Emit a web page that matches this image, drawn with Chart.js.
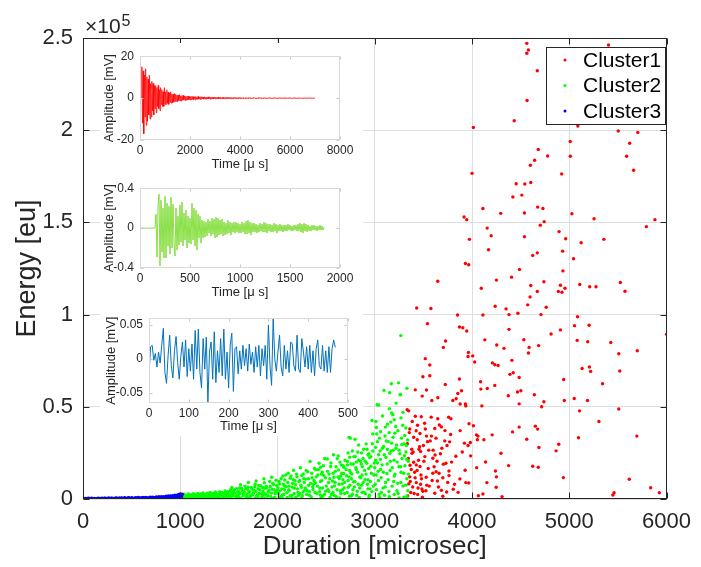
<!DOCTYPE html>
<html>
<head>
<meta charset="utf-8">
<script src="https://cdn.jsdelivr.net/npm/chart.js@4.4.1/dist/chart.umd.min.js"></script>
<style>
  html, body { margin: 0; padding: 0; background: #fff; }
  #wrap { position: relative; width: 701px; height: 567px; overflow: hidden; }
  #wrap canvas { position: absolute; }
</style>
</head>
<body>
<div id="wrap">
  <canvas id="mainChart" width="701" height="567" style="left:0;top:0"></canvas>
  <canvas id="inset1" width="263" height="134" style="left:100px;top:43px"></canvas>
  <canvas id="inset2" width="263" height="130" style="left:100px;top:175px"></canvas>
  <canvas id="inset3" width="263" height="131" style="left:100px;top:305px"></canvas>
</div>
<script>
// Energy vs duration scatter (3 clusters) with one example waveform per cluster

const clusterLabels = ['Cluster1', 'Cluster2', 'Cluster3'];
const clusterColors = ['#ff0000', '#00ff00', '#0000ff'];

const durationTicks = [0, 1000, 2000, 3000, 4000, 5000, 6000];
const energyTicks = [0, 50000, 100000, 150000, 200000, 250000];
const energyTickLabels = ['0', '0.5', '1', '1.5', '2', '2.5'];

// [duration (microsec), energy (eu)]
const cluster1Points = [
  [4563,247100],[4580,243500],[4563,241700],[4671,232200],[5403,246200],[4566,216100],[4434,205100],[5088,202300],[4014,201500],[5504,199600],
  [5705,198800],[5621,192900],[5010,193900],[4681,189500],[4777,186000],[5011,185900],[5590,185900],[4644,183700],[4600,181000],[4922,176300],
  [5661,178300],[4000,176600],[4454,171000],[4543,170800],[4604,171600],[4420,163800],[4512,164800],[4112,157500],[4295,154900],[4539,155100],
  [4675,158300],[4729,157500],[5027,154700],[5255,152000],[3918,152900],[3946,151500],[4742,150400],[4702,148500],[5881,151500],[5793,147700],
  [4156,146900],[4895,145000],[4197,142800],[4539,142200],[4963,141100],[3973,140800],[5122,139000],[5356,140800],[4170,135200],[4932,134400],
  [4671,133500],[4624,132100],[5044,130300],[3932,127700],[3966,127000],[4935,123700],[4488,124500],[3648,118100],[4251,118700],[4407,120300],
  [4739,117800],[4604,115800],[4909,115900],[4956,114300],[5108,116300],[5210,115100],[5275,115100],[5525,117400],[5573,112700],[4095,114300],
  [4671,112500],[4888,112500],[4925,112100],[4597,109600],[4573,105300],[4763,104000],[4238,104500],[4350,103100],[3431,103600],[3577,103300],
  [3851,99800],[4112,99800],[4380,100000],[4472,100700],[4709,100000],[5085,98800],
  [3542,95100],[3871,93300],[3905,92900],[3946,91100],[4380,92000],[4813,89500],[4909,91700],[5054,94000],[5204,94200],[6000,89300],
  [3728,85700],[4132,86300],[4533,86400],[5190,85300],[5081,86000],[5427,84900],[3705,82200],[4254,83500],[4329,81700],[4685,83200],
  [4587,82200],[3963,79500],[4007,77600],[4580,79200],[5509,78800],[5699,80400],[3519,76100],[3959,77300],[4027,74300],[4210,73800],
  [4410,75200],[4234,72800],[4268,72400],[5132,70800],[5207,71600],[5220,69200],[5519,69400],[3566,72700],[3495,66300],[3566,66800],
  [3871,65100],[4088,63600],[4390,67600],[4424,68500],[4485,65900],[4942,64800],[5342,62500],[3725,62100],[3417,59200],[3532,59100],
  [3854,57200],[3892,58700],[4091,59600],[4157,59900],[4234,61600],[4373,56000],[4467,58000],[4502,58700],[4641,56500],[4739,52700],
  [4949,53400],[5051,54500],[5187,53400],[3488,55800],[3587,53400],[3648,54900],[3803,53400],[3837,54400],[3878,51500],[3932,51500],
  [3936,50500],[4101,50500],[4485,51600],[4716,50000],[5509,48800],[5105,47800],[5305,42000],[3333,48400],[3349,47800],[3417,44900],
  [3478,44600],[3580,44400],[3648,43500],[3760,44400],[3783,43500],[3512,41100],[3617,38200],[3685,39100],[3722,37100],[3664,40100],
  [3878,37100],[3969,40800],[4014,39700],[4045,34800],[4061,34100],[4055,32100],[3983,30600],[3922,30300],[3959,29000],[4122,32100],
  [4207,34800],[4485,39000],[4417,36400],[4651,39500],[4675,37900],[4563,32400],[4688,27900],[4892,29700],[4864,26100],[4298,24800],
  [3986,23400],[3400,33500],[3437,32100],[3532,34100],[3583,34100],[3461,28400],[3542,31100],[3770,31000],[3743,29000],[3383,24800],
  [3471,25700],[3515,23000],[3597,22100],[3620,23900],[3400,19900],[3363,18300],[3427,18500],[3465,17600],[3705,18900],[3732,19400],
  [3834,23200],[3929,15600],[4048,17000],[4139,20100],[4241,15200],[4376,18100],[4624,17800],[4681,17200],[4153,8900],[4251,12000],
  [4248,6400],[4939,11600],[3631,14800],[3597,14000],[3661,14000],[3763,15200],[3644,9800],[3763,12700],[3875,10900],[3936,8900],
  [3529,11800],[3427,8900],[3471,8000],[3349,8200],[3485,5400],[3526,4500],[3617,3100],[3685,4700],[3739,3800],[3807,5300],
  [3857,3600],[3966,8700],[4065,1800],[4112,2700],[4309,1300],[3339,1600],[3441,2500],[3495,4200],[5461,3400],[5448,2200],
  [5617,10700],[5837,6100],[5926,3400],[5695,34100],[5095,33200],
  [3360,12000],[3380,27000],[3390,6500],[3410,14500],[3450,21000],[3480,11000],[3500,29000],[3550,16500],[3560,7000],[3600,26500],
  [3640,20500],[3700,11500],[3690,27500],[3790,20000],[3820,8000],[3900,25500],[3360,38000],[3440,40000],[3370,3500],
  [3335,30000],[3345,22000],[3355,36000],[3365,9500],[3375,16000],[3385,42000],[3395,25500],[3405,3000],[3415,11500],[3425,37000],
  [3435,15500],[3445,6000],[3455,27000],[3465,35500],[3475,13000],[3490,1000],[3505,20500],[3520,38000],[3535,7500],[3555,26500],
  [3570,31500],[3590,10000],[3610,17500],[3630,33000],[3655,6500],[3675,24500],[3700,1500],[3720,31500],[3750,9000],[3780,35000]
];

const cluster2Points = [
  [1010,300],[1020,900],[1035,500],[1050,1500],[1060,200],[1075,700],[1090,1200],[1100,400],[1115,1800],[1130,600],
  [1140,1000],[1155,300],[1170,2100],[1185,800],[1200,1400],[1210,500],[1225,2500],[1240,900],[1255,1700],[1270,300],
  [1285,1200],[1300,2200],[1310,700],[1325,1500],[1340,2800],[1355,400],[1370,1900],[1385,1000],[1400,2600],[1410,600],
  [1425,3200],[1440,1400],[1455,2000],[1470,800],[1485,3500],[1495,1700],[1060,1100],[1150,1600],[1250,2000],[1350,2400],
  [1450,3000],[1230,200],[1330,600],[1430,400],
  [1005,1200],[1012,2000],[1028,1500],[1040,2600],[1048,800],[1066,1900],[1082,2700],[1095,1600],[1108,2300],[1122,1100],
  [1135,2900],[1148,2200],[1162,1300],[1178,3000],[1192,1900],[1206,2800],[1218,1000],[1232,3300],[1246,2500],[1262,1200],
  [1276,3100],[1292,2000],[1305,3600],[1318,1400],[1332,3000],[1346,1800],[1362,3800],[1376,2600],[1392,1500],[1405,4000],
  [1418,2300],[1433,3500],[1448,1200],[1462,4300],[1478,2600],[1490,3900],
  [1505,2500],[1515,4200],[1525,800],[1540,3300],[1550,1800],[1560,5000],[1575,1200],[1590,3800],[1600,2200],[1610,6000],
  [1625,500],[1640,4500],[1650,2900],[1665,7000],[1680,1500],[1690,5200],[1705,3500],[1720,800],[1730,6300],[1745,2400],
  [1760,4800],[1770,8000],[1785,1700],[1800,5600],[1810,3000],[1825,7200],[1840,1000],[1850,4400],[1865,8800],[1880,2600],
  [1890,6100],[1905,3800],[1920,9500],[1930,1400],[1945,5300],[1960,7800],[1975,2900],[1985,10200],[1995,4600],[1530,6200],
  [1620,7800],[1700,9000],[1780,9800],[1860,11000],[1940,11800],[1570,300],[1670,200],[1770,600],[1870,400],[1970,900],
  [1508,1500],[1520,5200],[1535,2700],[1548,4300],[1562,3200],[1578,5600],[1588,2000],[1602,4000],[1615,3000],[1630,5800],
  [1645,1800],[1658,3900],[1672,5500],[1686,2700],[1698,6400],[1712,4100],[1725,2000],[1738,5500],[1752,3300],[1766,6700],
  [1778,4000],[1792,2300],[1806,7400],[1818,4900],[1832,2800],[1846,6200],[1858,3400],[1872,5800],[1885,7000],[1898,1900],
  [1912,4800],[1925,6800],[1938,3200],[1952,8500],[1966,5000],[1980,3600],[1992,7300],[1500,600],[1600,900],[1700,1200],
  [1800,800],[1900,1500],[1950,300],[1850,2000],
  [2010,3000],[2020,8200],[2030,1200],[2045,5500],[2055,12500],[2065,2400],[2075,10300],[2090,6700],[2100,800],[2110,14000],
  [2120,4300],[2130,11200],[2145,2000],[2155,8500],[2165,15500],[2175,5800],[2190,1000],[2200,12100],[2210,3600],[2220,9400],
  [2235,17000],[2245,6300],[2255,1800],[2265,13600],[2280,4800],[2290,10800],[2300,2500],[2310,14800],[2320,7400],[2335,20300],
  [2345,1200],[2355,11500],[2365,5200],[2380,16500],[2390,8800],[2393,15800],[2405,3000],[2415,13000],[2427,19400],[2435,6000],
  [2444,17200],[2455,10000],[2465,1500],[2475,12800],[2485,22000],[2495,4200],[2050,600],[2150,400],[2250,700],[2350,300],
  [2450,900],[2070,7000],[2180,9900],[2270,11000],[2370,8000],[2460,14500],[2115,5000],[2230,3000],[2330,4000],[2440,2200],
  [2005,6000],[2015,9500],[2025,4500],[2038,11000],[2048,2200],[2060,8000],[2072,5000],[2085,13000],[2095,3400],[2105,9000],
  [2118,7000],[2128,1600],[2138,12500],[2150,6500],[2160,10500],[2172,3000],[2185,7800],[2195,13500],[2205,5500],[2215,2000],
  [2228,10000],[2240,7500],[2250,12800],[2262,3800],[2275,9000],[2285,6000],[2295,15500],[2305,4500],[2318,11000],[2328,2000],
  [2340,8500],[2352,14000],[2362,6500],[2375,10000],[2385,3500],[2398,12000],[2410,7000],[2420,16000],[2432,4000],[2442,9500],
  [2452,13500],[2462,6000],[2472,18000],[2482,2500],[2492,11500],[2502,7000],[2515,15000],[2528,4000],[2538,11000],[2550,19500],
  [2560,6500],[2572,14000],[2582,2000],[2592,9000],[2602,17500],[2612,5000],[2622,12000],[2632,8000],[2642,20000],[2652,3000],
  [2512,21700],[2520,5000],[2530,13500],[2546,17600],[2555,2500],[2565,9800],[2575,24000],[2585,7000],[2595,15000],[2605,1200],
  [2614,21900],[2624,23400],[2635,11000],[2645,4500],[2655,18500],[2665,8200],[2681,17200],[2690,3000],[2702,35300],[2710,12600],
  [2719,20300],[2728,6400],[2736,33500],[2743,22700],[2752,14200],[2760,1800],[2770,26000],[2780,9300],[2797,32400],[2800,23000],
  [2810,16000],[2820,4200],[2834,29300],[2845,12000],[2855,20500],[2865,7500],[2885,27000],[2895,15500],[2905,2800],[2912,29900],
  [2918,19400],[2930,10500],[2940,24500],[2950,5500],[2960,17800],[2972,42600],[2980,35300],[2990,13000],[2540,800],[2640,600],
  [2740,1500],[2840,900],[2940,1100],[2580,11800],[2680,13800],[2780,19000],[2880,22000],[2980,26000],[2525,9000],[2625,15800],
  [2725,10000],[2825,25500],[2925,8000],[2570,3500],[2670,5000],[2770,2600],[2870,3600],[2970,4000],
  [2660,14000],[2672,10500],[2685,6000],[2695,21000],[2705,16000],[2715,3500],[2725,25000],[2735,12000],[2745,7500],[2755,19000],
  [2765,13500],[2775,5000],[2785,23000],[2795,9500],[2805,17000],[2815,2000],[2825,14500],[2835,21000],[2845,6000],[2855,11500],
  [2862,25000],[2872,17500],[2882,9000],[2892,3500],[2902,20500],[2910,13500],[2920,27000],[2930,5500],[2938,16500],[2948,22500],
  [2955,9500],[2965,14000],[2975,30000],[2985,7000],[2995,19500],[2690,9000],[2760,11000],[2830,8000],[2900,10500],[2960,23000],
  [2675,18000],[2740,15500],[2810,20000],[2870,13000],[2945,2000],[2650,12500],[2720,18500],[2790,6500],[2860,19000],[2930,24000],
  [3005,8000],[3010,21000],[3017,38800],[3020,35300],[3024,51100],[3027,31100],[3035,15000],[3045,2500],[3055,26000],[3065,11500],
  [3075,18500],[3085,6000],[3095,58900],[3105,34200],[3109,39000],[3115,22500],[3125,13800],[3139,31100],[3145,4000],[3155,24800],
  [3166,41700],[3170,62500],[3173,30300],[3180,17000],[3186,45700],[3195,9500],[3207,35700],[3214,39300],[3224,29300],[3230,20000],
  [3240,3000],[3250,26500],[3261,56500],[3270,14500],[3280,22000],[3290,7000],[3300,30000],[3310,18000],[3320,25500],[3330,11000],
  [3340,4500],[3345,20500],[3050,900],[3150,1200],[3250,600],[3330,1500],[3060,16000],[3130,27000],[3200,12500],[3275,33000],
  [3015,13000],[3090,28500],[3160,20500],[3235,8500],[3305,23500],[3040,24000],[3110,9000],[3190,26500],[3265,17500],[3325,29000],
  [3244,63000],[3153,57600],[3040,51000],[3173,46700],[2695,35800],[2748,33000],[3268,88600],[3265,56700],
  [3000,17000],[3008,28000],[3018,5000],[3028,19500],[3038,10000],[3048,33000],[3058,21500],[3068,3500],[3078,27500],[3088,14500],
  [3098,24000],[3108,6500],[3118,31500],[3128,19000],[3138,10500],[3148,36000],[3158,15500],[3168,26000],[3178,7000],[3188,33500],
  [3198,21000],[3208,13500],[3218,27500],[3228,4500],[3238,37000],[3248,17500],[3258,24500],[3268,9000],[3278,29500],[3288,40000],
  [3298,14000],[3308,34500],[3318,7500],[3328,21500],[3338,32000],[3345,13500],[3012,42000],[3080,45000],[3150,49000],[3220,52000],
  [3290,47000],[3330,60000],[3060,36500],[3130,40500],[3200,43000],[3270,44000],[3320,38500],[3100,2000],[3200,2500],[3300,1000]
];

const cluster3Points = [
  [0,100],[15,200],[30,50],[45,150],[60,300],[80,100],[95,250],[110,50],[130,200],[150,350],
  [165,100],[185,250],[200,150],[220,400],[240,100],[255,300],[275,200],[290,450],[310,150],[330,300],
  [345,500],[365,200],[380,350],[400,600],[420,250],[435,450],[455,300],[470,650],[490,200],[510,500],
  [525,350],[545,750],[560,300],[580,600],[600,450],[615,850],[635,350],[650,700],[670,500],[690,950],
  [705,400],[720,800],[740,600],[755,1100],[770,500],[790,900],[805,1300],[820,700],[840,1000],[855,1500],
  [870,800],[885,1200],[900,1700],[915,900],[930,1400],[945,2000],[960,1100],[975,1700],[985,2400],[995,1300],
  [1005,2200],[1015,1800],[1020,2600],[1010,1000],[500,100],[700,200],[900,300],[300,50],
  [5,400],[22,300],[38,200],[52,450],[70,250],[88,400],[102,200],[120,350],[140,150],[158,450],
  [175,300],[195,500],[210,250],[230,450],[248,300],[265,550],[282,250],[300,500],[320,350],[338,600],
  [355,300],[372,550],[390,400],[410,350],[428,650],[445,250],[462,550],[480,400],[500,700],[518,300],
  [535,600],[552,450],[570,800],[590,400],[608,700],[625,550],[642,900],[660,400],[680,750],[698,600],
  [712,1000],[730,500],[748,850],[762,700],[780,1200],[798,650],[812,1000],[830,1300],[848,800],[862,1200],
  [878,1600],[892,1000],[908,1400],[922,1800],[938,1100],[952,1600],[968,2100],[980,1500],[992,2000],[1000,2800]
];

// example waveforms (amplitude in mV), one sample every *Step microseconds
const wave1Step = 25;
const wave1Amp = [
  0,0,0,15,-12,13,-17,11,-9,14,-13,10,-11,
  9,-8,11,-10,7,-9,8,-6,7,-8,6,-5,
  6,-7,5,-4,6,-5,4,-6,5,-3,4,-4,3,-4,5,-3,
  3,-3,4,-2.5,2.8,-3,2.5,-2,3,-2.4,2,-2.2,1.8,-2,2.2,-1.6,1.8,-1.5,1.4,-1.7,
  1.5,-1.2,1.6,-1.3,1.1,-1.4,1.2,-1,1.3,-0.9,1,-1.1,0.8,-1,0.9,-0.8,1,-0.7,0.8,-0.9,
  0.7,-0.8,0.9,-0.6,0.7,-0.7,0.6,-0.8,0.7,-0.5,0.6,-0.6,0.8,-0.5,0.5,-0.6,0.6,-0.5,0.7,-0.4,
  0.5,-0.5,0.6,-0.4,0.4,-0.5,0.5,-0.4,0.6,-0.3,0.4,-0.5,0.4,-0.3,0.5,-0.4,0.3,-0.4,0.4,-0.3,
  0.4,-0.3,0.3,-0.4,0.5,-0.3,0.3,-0.3,0.4,-0.2,0.3,-0.3,0.4,-0.3,0.2,-0.3,0.3,-0.2,0.4,-0.3,
  0.3,-0.2,0.2,-0.3,0.3,-0.2,0.3,-0.2,0.2,-0.3,0.3,-0.2,0.2,-0.2,0.3,-0.2,0.2,-0.2,0.3,-0.2,
  0.2,-0.2,0.2,-0.1,0.2,-0.2,0.1,-0.2,0.2,-0.1,0.2,-0.15,0.15,-0.2,0.2,-0.1,0.15,-0.2,0.1,-0.15,
  0.2,-0.1,0.15,-0.15,0.1,-0.2,0.15,-0.1,0.2,-0.15,0.15,-0.1,0.1,-0.15,0.2,-0.1,0.1,-0.15,0.15,-0.1,
  0.15,-0.1,0.1,-0.15,0.1,-0.1,0.15,-0.1,0.1,-0.15,0.1,-0.1,0.15,-0.1,0.1,-0.1,0.12,-0.1,0.1,-0.12,
  0.1,-0.12,0.12,-0.1,0.1,-0.1,0.12,-0.08,0.1,-0.1,0.08,-0.1,0.1,-0.08,0.1,-0.1,0.08,-0.1,0.1,-0.08,
  0.1,-0.08,0.08,-0.1,0.1,-0.08,0.08,-0.08,0.1,-0.08,0.08,-0.1,0.08,-0.08,0.1,-0.08,0.08,-0.08,0.08,-0.08,
  0.08,-0.08,0.06,-0.08,0.08,-0.06,0.08,-0.06,0.06,-0.08,0.08,-0.06,0.06,-0.06,0.08,-0.06,0.06,-0.06,0.06,0
];
const wave2Step = 10;
const wave2Amp = [
  0,0.003,-0.002,0.002,-0.003,0.002,0,-0.002,0.003,-0.002,0.002,-0.003,0.002,0,-0.002,0.003,
  0.14,-0.29,0.22,0.34,-0.38,0.28,-0.24,0.2,-0.3,0.32,
  -0.3,0.25,-0.18,0.22,-0.26,0.31,-0.2,0.24,-0.15,-0.28,
  0.2,-0.22,0.12,-0.17,0.23,-0.14,0.26,-0.18,0.15,-0.12,
  0.18,-0.2,0.12,-0.15,0.1,-0.16,0.25,-0.12,0.2,-0.18,
  0.18,-0.22,0.14,-0.1,0.12,-0.15,0.08,-0.1,0.07,-0.09,
  0.06,-0.08,0.09,-0.05,0.07,-0.08,0.1,-0.06,0.09,-0.1,
  0.11,-0.09,0.1,-0.07,0.08,-0.06,0.09,-0.08,0.06,-0.07,
  0.05,-0.06,0.08,-0.05,0.06,-0.07,0.05,-0.04,0.06,-0.05,
  0.06,-0.04,0.05,-0.05,0.04,-0.05,0.06,-0.04,0.05,-0.06,
  0.07,-0.06,0.08,-0.05,0.06,-0.07,0.05,-0.04,0.05,-0.04,
  0.04,-0.05,0.03,-0.04,0.05,-0.03,0.04,-0.04,0.06,-0.04,
  0.05,-0.05,0.04,-0.03,0.04,-0.04,0.03,-0.04,0.05,-0.03,
  0.04,-0.05,0.03,-0.03,0.04,-0.03,0.03,-0.04,0.03,-0.03,
  0.03,-0.03,0.04,-0.02,0.03,-0.03,0.02,-0.03,0.03,-0.02,
  0.03,-0.03,0.04,-0.03,0.05,-0.04,0.04,-0.05,0.05,-0.03,
  0.04,-0.04,0.03,-0.03,0.02,-0.03,0.03,-0.02,0.03,-0.02,
  0.02,-0.03,0.02,-0.02,0.03,-0.02,0.02,-0.02,0.01
];
const wave3Step = 4;
const wave3Amp = [
  -0.023,0.018,0.02,-0.002,0.008,-0.012,0.01,-0.006,0.02,0.045,
  -0.02,-0.036,0.005,0.035,-0.01,-0.028,0.012,0.033,-0.005,-0.03,
  0.004,0.025,-0.012,0.028,-0.026,0.015,-0.018,0.022,-0.03,0.042,
  -0.015,0.044,-0.02,-0.043,0.03,-0.015,0.032,-0.064,0.01,0.025,
  -0.03,0.04,-0.035,0.012,-0.02,0.03,-0.025,0.044,-0.03,0.01,
  -0.043,0.02,0.038,-0.048,0.015,0.018,-0.022,0.012,-0.015,0.02,
  -0.01,0.015,-0.018,0.022,-0.008,0.01,-0.02,0.018,-0.012,0.02,
  -0.025,0.015,-0.01,0.02,-0.03,0.05,-0.01,-0.039,0.06,0,
  -0.018,0.01,0.035,-0.012,-0.025,0.02,-0.015,0.012,-0.02,0.025,
  0.022,-0.01,-0.018,0.035,-0.015,-0.02,0.03,0.01,-0.012,0.018,
  -0.015,0.02,-0.02,0.012,-0.025,0.015,0.028,-0.01,-0.015,0.02,
  -0.018,0.012,-0.02,0.018,-0.02,0.015,0.028,0.017
];

const fontFamily = "'Liberation Sans', Arial, Helvetica, sans-serif";
const axisColor = '#262626';

// box round the axes plus MATLAB-style inward tick marks
const boxTicksPlugin = {
  id: 'boxTicks',
  beforeDraw(chart) {
    const ctx = chart.ctx;
    ctx.save();
    ctx.fillStyle = '#ffffff';
    ctx.fillRect(0, 0, chart.width, chart.height);
    ctx.restore();
  },
  afterDatasetsDraw(chart, args, opts) {
    const { ctx, chartArea: a, scales } = chart;
    const L = Math.round(a.left) + 0.5, R = Math.round(a.right) - 0.5;
    const T = Math.round(a.top) + 0.5, B = Math.round(a.bottom) - 0.5;
    ctx.save();
    ctx.lineWidth = 1;
    ctx.strokeStyle = opts.tickColor;
    ctx.beginPath();
    scales.x.ticks.forEach(t => {
      const p = Math.round(scales.x.getPixelForValue(t.value)) + 0.5;
      ctx.moveTo(p, B); ctx.lineTo(p, B - opts.len);
      ctx.moveTo(p, T); ctx.lineTo(p, T + opts.len);
    });
    scales.y.ticks.forEach(t => {
      const p = Math.round(scales.y.getPixelForValue(t.value)) + 0.5;
      ctx.moveTo(L, p); ctx.lineTo(L + opts.len, p);
      ctx.moveTo(R, p); ctx.lineTo(R - opts.len, p);
    });
    ctx.stroke();
    ctx.strokeStyle = opts.color;
    ctx.strokeRect(L, T, R - L, B - T);
    ctx.restore();
  }
};

// legend box and the x10^5 exponent label
const mainExtrasPlugin = {
  id: 'mainExtras',
  afterDraw(chart) {
    const ctx = chart.ctx;
    ctx.save();
    ctx.fillStyle = axisColor;
    ctx.textBaseline = 'alphabetic';
    ctx.font = '21px ' + fontFamily;
    ctx.fillText('\u00d710', 85, 33);
    const w = ctx.measureText('\u00d710').width;
    ctx.font = '16px ' + fontFamily;
    ctx.fillText('5', 85 + w + 1, 26);

    const box = { x: 546.5, y: 47.5, w: 119, h: 77 };
    ctx.fillStyle = '#ffffff';
    ctx.fillRect(box.x, box.y, box.w, box.h);
    ctx.strokeStyle = axisColor;
    ctx.lineWidth = 1;
    ctx.strokeRect(box.x, box.y, box.w, box.h);
    ctx.font = '21px ' + fontFamily;
    ctx.textBaseline = 'middle';
    chart.data.datasets.forEach((ds, i) => {
      const cy = 60 + i * 25.5;
      ctx.fillStyle = ds.backgroundColor;
      ctx.beginPath();
      ctx.arc(565, cy, 1.5, 0, Math.PI * 2);
      ctx.fill();
      ctx.fillStyle = '#000000';
      ctx.fillText(ds.label, 583, cy + 1);
    });
    ctx.restore();
  }
};

function toXY(points) {
  return points.map(p => ({ x: p[0], y: p[1] }));
}

const clusterPoints = [cluster1Points, cluster2Points, cluster3Points];

new Chart(document.getElementById('mainChart'), {
  type: 'scatter',
  data: {
    datasets: clusterPoints.map((pts, i) => ({
      label: clusterLabels[i],
      data: toXY(pts),
      backgroundColor: clusterColors[i],
      borderWidth: 0,
      pointRadius: 1.7,
      order: 3 - i
    }))
  },
  options: {
    responsive: false,
    animation: false,
    events: [],
    layout: { padding: { top: 38, right: 28, left: 0, bottom: 0 } },
    plugins: {
      legend: { display: false },
      tooltip: { enabled: false },
      boxTicks: { color: axisColor, tickColor: axisColor, len: 6 }
    },
    scales: {
      x: {
        type: 'linear',
        min: 0,
        max: 6000,
        afterBuildTicks: s => { s.ticks = durationTicks.map(v => ({ value: v })); },
        afterFit: s => { s.height = 68; },
        grid: { color: '#dfdfdf', drawTicks: false },
        border: { display: false },
        ticks: {
          padding: 10,
          maxRotation: 0,
          autoSkip: false,
          color: axisColor,
          font: { family: fontFamily, size: 22 },
          callback: v => String(v)
        },
        title: {
          display: true,
          text: 'Duration [microsec]',
          color: axisColor,
          font: { family: fontFamily, size: 26, lineHeight: 1.2 },
          padding: { top: 0, bottom: 5 }
        }
      },
      y: {
        type: 'linear',
        min: 0,
        max: 250000,
        afterBuildTicks: s => { s.ticks = energyTicks.map(v => ({ value: v })); },
        afterFit: s => { s.width = 83; },
        grid: { color: '#dfdfdf', drawTicks: false },
        border: { display: false },
        ticks: {
          padding: 10,
          autoSkip: false,
          color: axisColor,
          font: { family: fontFamily, size: 22 },
          callback: (v, i) => energyTickLabels[i]
        },
        title: {
          display: true,
          text: 'Energy [eu]',
          color: axisColor,
          font: { family: fontFamily, size: 27, lineHeight: 1.2 },
          padding: { top: 11, bottom: 0 }
        }
      }
    }
  },
  plugins: [boxTicksPlugin, mainExtrasPlugin]
});

function makeInset(id, cfg) {
  new Chart(document.getElementById(id), {
    type: 'line',
    data: {
      datasets: [{
        data: cfg.amp.map((a, i) => ({ x: i * cfg.step, y: a })),
        borderColor: cfg.color,
        borderWidth: cfg.lineWidth,
        pointRadius: 0,
        tension: 0,
        fill: false
      }]
    },
    options: {
      responsive: false,
      animation: false,
      events: [],
      layout: { padding: { top: cfg.padTop, right: cfg.padRight, left: 0, bottom: 0 } },
      plugins: {
        legend: { display: false },
        tooltip: { enabled: false },
        boxTicks: { color: '#d9d9d9', tickColor: '#c8c8c8', len: 3 }
      },
      scales: {
        x: {
          type: 'linear',
          min: cfg.xTicks[0],
          max: cfg.xTicks[cfg.xTicks.length - 1],
          afterBuildTicks: s => { s.ticks = cfg.xTicks.map(v => ({ value: v })); },
          afterFit: s => { s.height = cfg.bottomSpace; },
          grid: { display: false, drawTicks: false },
          border: { display: false },
          ticks: {
            padding: 3,
            maxRotation: 0,
            autoSkip: false,
            color: axisColor,
            font: { family: fontFamily, size: 12 },
            callback: v => String(v)
          },
          title: {
            display: true,
            text: 'Time [\u03bc s]',
            color: axisColor,
            font: { family: fontFamily, size: 13, lineHeight: 1.2 },
            padding: { top: 0, bottom: cfg.xTitlePad }
          }
        },
        y: {
          type: 'linear',
          min: cfg.yMin,
          max: cfg.yMax,
          afterBuildTicks: s => { s.ticks = cfg.yTicks.map(v => ({ value: v })); },
          afterFit: s => { s.width = cfg.leftSpace; },
          grid: { display: false, drawTicks: false },
          border: { display: false },
          ticks: {
            padding: 6,
            autoSkip: false,
            color: axisColor,
            font: { family: fontFamily, size: 12 },
            callback: (v, i) => cfg.yTickLabels[i]
          },
          title: {
            display: true,
            text: 'Amplitude [mV]',
            color: axisColor,
            font: { family: fontFamily, size: 13, lineHeight: 1.2 },
            padding: { top: cfg.yTitlePad, bottom: 0 }
          }
        }
      }
    },
    plugins: [boxTicksPlugin]
  });
}

makeInset('inset1', {
  amp: wave1Amp, step: wave1Step, color: 'rgba(255,0,0,0.85)', lineWidth: 0.9,
  xTicks: [0, 2000, 4000, 6000, 8000],
  yMin: -20, yMax: 20, yTicks: [-20, 0, 20], yTickLabels: ['-20', '0', '20'],
  padTop: 12, padRight: 23, bottomSpace: 37, leftSpace: 40, xTitlePad: 5, yTitlePad: 2
});

makeInset('inset2', {
  amp: wave2Amp, step: wave2Step, color: 'rgba(95,212,0,0.9)', lineWidth: 0.8,
  xTicks: [0, 500, 1000, 1500, 2000],
  yMin: -0.4, yMax: 0.4, yTicks: [-0.4, 0, 0.4], yTickLabels: ['-0.4', '0', '0.4'],
  padTop: 5, padRight: 23, bottomSpace: 37, leftSpace: 40, xTitlePad: 5, yTitlePad: 2
});

makeInset('inset3', {
  amp: wave3Amp, step: wave3Step, color: '#0072BD', lineWidth: 1,
  xTicks: [0, 100, 200, 300, 400, 500],
  yMin: -0.065, yMax: 0.06, yTicks: [-0.05, 0, 0.05], yTickLabels: ['-0.05', '0', '0.05'],
  padTop: 5, padRight: 15, bottomSpace: 33, leftSpace: 49, xTitlePad: 2, yTitlePad: 4
});
</script>
</body>
</html>
